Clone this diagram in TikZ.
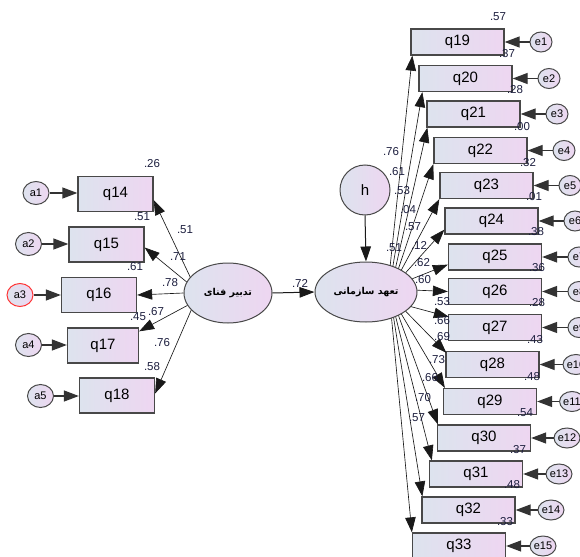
\documentclass[tikz,border=0pt]{standalone}
\usepackage{fontspec}
\setmainfont{Liberation Sans}
\newfontfamily\arabicfont[Script=Arabic]{DejaVu Sans}
\TeXXeTstate=1
\usetikzlibrary{shapes.geometric,arrows.meta,calc}
\definecolor{boxL}{RGB}{221,227,238}
\definecolor{boxR}{RGB}{238,214,241}
\definecolor{edgecol}{RGB}{72,72,72}
\definecolor{numcol}{RGB}{28,30,62}
\begin{document}
\begin{tikzpicture}[x=1pt,y=-1pt,
  obs/.style={rectangle, draw=edgecol, line width=1.3pt, left color=boxL, right color=boxR,
    minimum width=93pt, minimum height=26pt, inner sep=0pt, font=\fontsize{15}{15}\selectfont},
  obsL/.style={obs, minimum width=75pt, minimum height=35pt},
  lat/.style={ellipse, draw=edgecol, line width=1pt, left color=boxL, right color=boxR,
    inner sep=0pt},
  errA/.style={ellipse, draw=edgecol, line width=1pt, left color=boxL, right color=boxR,
    minimum width=26pt, minimum height=23pt, inner sep=0pt, font=\fontsize{11}{11}\selectfont},
  errE/.style={errA, minimum width=22pt, minimum height=20pt},
  pth/.style={draw=black!90, line width=0.65pt, -{Triangle[length=15pt,width=10.5pt]}},
  epth/.style={draw=black!80, line width=1.3pt, -{Triangle[length=15pt,width=11pt]}},
  val/.style={font=\fontsize{11.5}{11.5}\selectfont, text=numcol, inner sep=0pt}]
\useasboundingbox (0,0) rectangle (580,556);
\clip (0,0) rectangle (580,556);

% latent variables
\node[lat, minimum width=88pt, minimum height=60pt] (E1) at (228,293)
  {\arabicfont\bfseries\fontsize{9.5}{10}\selectfont\beginR تدبیر فنای\endR};
\node[lat, minimum width=102pt, minimum height=60pt] (E2) at (366,292)
  {\arabicfont\bfseries\fontsize{9.5}{10}\selectfont\beginR تعهد سازمانی\endR};
\node[errA, minimum width=50pt, minimum height=50pt, font=\fontsize{15}{15}\selectfont] (h) at (365,190) {h};

% left indicators
\node[obsL] (q14) at (115.5,194) {q14};
\node[obsL] (q15) at (106.5,244.5) {q15};
\node[obsL] (q16) at (99,295) {q16};
\node[obsL, minimum width=71pt] (q17) at (103,345.5) {q17};
\node[obsL] (q18) at (117,395.5) {q18};

\node[errA] (a1) at (36,193) {a1};
\node[errA] (a2) at (28.5,244) {a2};
\node[errA, draw=red!80] (a3) at (20,295) {a3};
\node[errA] (a4) at (28.5,345) {a4};
\node[errA] (a5) at (40.5,396) {a5};

\foreach \i/\q in {1/14,2/15,3/16,4/17,5/18}
  \draw[epth] (a\i.east) -- (a\i.east -| q\q.west);

\draw[pth] (E1.157) -- ($(q14.east)+(0,6)$);
\draw[pth] (E1.165) -- ($(q15.east)+(0,3)$);
\draw[pth] (E1.180) -- (q16.east);
\draw[pth] (E1.197) -- ($(q17.north east)+(0,4)$);
\draw[pth] (E1.205) -- ($(q18.east)+(0,-2)$);

\draw[pth, line width=1pt] (E1.east) -- (E2.west);
\draw[pth, line width=1pt] (h.south) -- (E2.north);

% right indicators
\node[obs] (q19) at (457.5,42) {q19};
\node[obs] (q20) at (465.5,78.5) {q20};
\node[obs] (q21) at (473.5,114) {q21};
\node[obs] (q22) at (480.5,150.5) {q22};
\node[obs] (q23) at (486.5,185.5) {q23};
\node[obs] (q24) at (491.5,221) {q24};
\node[obs] (q25) at (495,257) {q25};
\node[obs] (q26) at (495,291.5) {q26};
\node[obs] (q27) at (495,327.5) {q27};
\node[obs] (q28) at (492.5,364.5) {q28};
\node[obs] (q29) at (490,401.5) {q29};
\node[obs] (q30) at (484,438) {q30};
\node[obs] (q31) at (476,474) {q31};
\node[obs] (q32) at (468.5,510) {q32};
\node[obs] (q33) at (459,546) {q33};

\foreach \i/\q/\x in {1/19/541,2/20/549,3/21/557,4/22/564,5/23/570,6/24/575,7/25/579,
                      8/26/579,9/27/579,10/28/576,11/29/572,12/30/567,13/31/559,14/32/551,15/33/543}{
  \node[errE] (e\i) at (\x,0 |- q\q) {e\i};
  \draw[epth] (e\i.west) -- (e\i.west -| q\q.east);
}

\draw[pth] (E2.48) -- ($(q19.south west)+(2,0)$);
\draw[pth] (E2.44) -- ($(q20.south west)+(4,0)$);
\draw[pth] (E2.40) -- ($(q21.south west)+(1,0)$);
\draw[pth] (E2.36) -- ($(q22.south west)+(0,0)$);
\draw[pth] (E2.32) -- ($(q23.south west)+(0,0)$);
\draw[pth] (E2.26) -- ($(q24.south west)+(0,-5)$);
\draw[pth] (E2.16) -- ($(q25.south west)+(0,-6)$);
\draw[pth] (E2.2) -- (q26.west);
\draw[pth] (E2.-18) -- ($(q27.north west)+(1,3)$);
\draw[pth] (E2.-26) -- ($(q28.north west)+(1,2)$);
\draw[pth] (E2.-32) -- ($(q29.north west)+(2,0)$);
\draw[pth] (E2.-36) -- ($(q30.north west)+(1,0)$);
\draw[pth] (E2.-40) -- ($(q31.north west)+(3,0)$);
\draw[pth] (E2.-43) -- ($(q32.north west)+(1,0)$);
\draw[pth] (E2.-46) -- ($(q33.north west)+(0,0)$);

% estimates, left side
\node[val] at (152,164) {.26};
\node[val] at (142,217) {.51};
\node[val] at (135,267) {.61};
\node[val] at (138,317) {.45};
\node[val] at (152,367) {.58};
\node[val] at (185,230) {.51};
\node[val] at (178,257) {.71};
\node[val] at (170,283) {.78};
\node[val] at (156,312) {.67};
\node[val] at (162,343) {.76};
\node[val] at (300,283) {.72};

% estimates, right side
\node[val] at (391,152) {.76};
\node[val] at (397,172) {.61};
\node[val] at (402,191) {.53};
\node[val] at (408,210) {.04};
\node[val] at (413,227) {.57};
\node[val] at (419,245) {.12};
\node[val] at (394,248) {.51};
\node[val] at (422,263) {.62};
\node[val] at (423,280) {.60};
\node[val] at (442,302) {.53};
\node[val] at (442,321) {.66};
\node[val] at (442,337) {.69};
\node[val] at (437,360) {.73};
\node[val] at (430,378) {.66};
\node[val] at (423,398) {.70};
\node[val] at (417,418) {.57};

\node[val] at (498,17) {.57};
\node[val] at (507,54) {.37};
\node[val] at (515,90) {.28};
\node[val] at (522,127) {.00};
\node[val] at (528,163) {.32};
\node[val] at (534,197) {.01};
\node[val] at (536,232) {.38};
\node[val] at (537,268) {.36};
\node[val] at (537,303) {.28};
\node[val] at (535,340) {.43};
\node[val] at (532,377) {.48};
\node[val] at (525,413) {.54};
\node[val] at (518,450) {.37};
\node[val] at (512,485) {.48};
\node[val] at (505,522) {.33};
\end{tikzpicture}
\end{document}
